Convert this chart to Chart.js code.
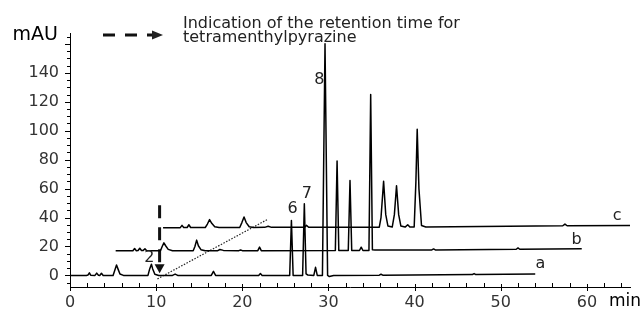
<!DOCTYPE html>
<html>
<head>
<meta charset="utf-8">
<script src="https://cdn.jsdelivr.net/npm/chart.js@4/dist/chart.umd.min.js"></script>
<style>
  body { margin: 0; background: #fff; }
  #wrap { width: 644px; height: 309px; }
</style>
</head>
<body>
<div id="wrap"><canvas id="chrom" width="644" height="309"></canvas></div>
<script>
/* ==========================================
   DATA  (time in min, absorbance in mAU)
========================================== */

const traceA = [
  [0,0],[1.9,0],[2.1,0.3],[2.25,1.8],[2.4,0.2],[2.9,0],[3.1,1.6],[3.3,0.1],[3.45,0],[3.65,1.5],[3.85,0],
  [5.0,0],[5.2,3.5],[5.4,7.2],[5.6,4],[5.8,1],[6.2,0],
  [9.05,0],[9.25,4.5],[9.45,7.7],[9.6,4.5],[9.85,0.8],[10.3,0],
  [11.9,0],[12.2,0.9],[12.5,0],[16.4,0],[16.65,2.8],[16.9,0],[21.9,0],[22.1,1.3],[22.3,0],
  [25.5,0],[25.7,38],[25.9,0],[27.0,0],[27.2,49.5],[27.4,1],[27.6,0.3],
  [28.3,0],[28.5,5.6],[28.7,0],[29.3,0],[29.6,160],[29.9,0],[30.1,-0.8],[30.6,0],
  [35.9,0.2],[36.1,0.8],[36.3,0.2],[46.7,0.6],[46.9,1.3],[47.1,0.6],[54,0.9]
];

const traceB = [
  [5.3,17],[7.3,17],[7.5,18.6],[7.7,17.1],[7.9,17.2],[8.1,18.8],[8.3,17.2],[8.5,17.3],[8.7,18.4],[8.9,17],
  [10.5,17],[10.7,20],[10.9,22.5],[11.1,20.5],[11.4,18],[11.9,17],
  [14.3,17],[14.5,20],[14.7,24.4],[14.9,20.5],[15.2,17.8],[15.7,17],
  [17.1,17],[17.4,17.9],[17.8,17.3],[19.6,17.1],[19.8,17.6],[20.0,17.1],[21.8,17.1],[22.0,19.6],[22.2,17.1],
  [30.8,17.2],[31.0,79],[31.2,17.2],[32.3,17.2],[32.5,65.6],[32.7,17.2],
  [33.6,17.2],[33.8,19.5],[34.0,17.2],[34.7,17.2],[34.9,125],[35.1,17.8],[35.4,17.6],
  [42,17.6],[42.2,18.3],[42.4,17.6],[51.8,18.1],[52,19],[52.2,18.1],[59.4,18.4]
];

const traceC = [
  [10.8,33],[12.8,33],[13.0,34.6],[13.2,33.1],[13.6,33.1],[13.8,35],[14.0,33.1],
  [15.7,33.1],[15.95,35.5],[16.2,38.6],[16.45,36],[16.8,33.6],[17.3,33.1],
  [19.7,33.1],[19.95,36.5],[20.2,40.4],[20.45,36.5],[20.8,33.6],[21.3,33.1],
  [22.6,33.2],[23.0,34],[23.4,33.2],[27.2,33.2],[27.45,34.6],[27.7,33.3],
  [35.9,33.3],[36.1,40],[36.4,65],[36.65,42],[36.9,34.2],[37.4,33.4],
  [37.65,42],[37.9,62],[38.15,42],[38.4,34.2],[38.9,33.4],[39.2,35],[39.45,33.4],
  [39.95,33.5],[40.15,65],[40.3,101],[40.5,60],[40.8,34.5],[41.3,33.5],
  [57.2,34.3],[57.45,35.5],[57.7,34.3],[65,34.5]
];

// retention time marker of tetramethylpyrazine and the dotted guide
const markerLine = [[10.4,48.5],[10.4,7]];
const markerTip = [10.4,1.5];
const guideLine = [[10.15,-2.4],[22.9,38.6]];

const peakNames = ["2","6","7","8"];
const peakAt = [[9.22,11.8],[25.85,45.7],[27.5,56.7],[28.94,135]];
const traceNames = ["a","b","c"];
const traceNameAt = [[54.6,7.9],[58.8,24.4],[63.5,40.9]];

const xTicks = [0,10,20,30,40,50,60];
const yTicks = [0,20,40,60,80,100,120,140];

/* ==========================================
   DECORATION (minor ticks, labels, legend)
========================================== */

const FONT = "'DejaVu Sans', 'Liberation Sans', sans-serif";

const decor = {
  id: "decor",
  afterDatasetsDraw(chart) {
    const ctx = chart.ctx;
    const xs = chart.scales.x, ys = chart.scales.y;
    const area = chart.chartArea;
    const px = v => xs.getPixelForValue(v);
    const py = v => ys.getPixelForValue(v);

    ctx.save();
    ctx.strokeStyle = "#000";
    ctx.lineWidth = 1;

    // y ticks
    for (let v = -5; v <= 165; v += 5) {
      const y = Math.round(py(v)) + 0.5;
      const len = v % 20 === 0 ? 5 : 3;
      ctx.beginPath();
      ctx.moveTo(area.left - len, y);
      ctx.lineTo(area.left, y);
      ctx.stroke();
    }
    // x ticks
    for (let t = 0; t <= 64; t += 2) {
      const x = Math.round(px(t)) + 0.5;
      ctx.beginPath();
      if (t % 10 === 0) {
        ctx.moveTo(x, area.bottom - 3);
        ctx.lineTo(x, area.bottom + 4);
      } else {
        ctx.moveTo(x, area.bottom - 4);
        ctx.lineTo(x, area.bottom);
      }
      ctx.stroke();
    }

    // arrow head of the marker
    const tx = px(markerTip[0]), ty = py(markerTip[1]);
    ctx.fillStyle = "#111";
    ctx.beginPath();
    ctx.moveTo(tx, ty);
    ctx.lineTo(tx - 5, ty - 9);
    ctx.lineTo(tx + 5, ty - 9);
    ctx.closePath();
    ctx.fill();

    // peak numbers and trace names
    ctx.fillStyle = "#222";
    ctx.font = "16px " + FONT;
    ctx.textAlign = "center";
    ctx.textBaseline = "middle";
    peakNames.forEach((n, i) => ctx.fillText(n, px(peakAt[i][0]), py(peakAt[i][1])));
    traceNames.forEach((n, i) => ctx.fillText(n, px(traceNameAt[i][0]), py(traceNameAt[i][1])));

    // legend: dashed arrow + text
    ctx.strokeStyle = "#111";
    ctx.lineWidth = 3;
    ctx.setLineDash([12, 10]);
    ctx.beginPath();
    ctx.moveTo(103, 35);
    ctx.lineTo(152, 35);
    ctx.stroke();
    ctx.setLineDash([]);
    ctx.beginPath();
    ctx.moveTo(163, 35);
    ctx.lineTo(152, 30.5);
    ctx.lineTo(152, 39.5);
    ctx.closePath();
    ctx.fill();

    ctx.textAlign = "left";
    ctx.textBaseline = "alphabetic";
    ctx.fillText("Indication of the retention time for", 183, 28);
    ctx.fillText("tetramenthylpyrazine", 183, 42);

    // axis titles
    ctx.fillStyle = "#000";
    ctx.font = "19px " + FONT;
    ctx.textAlign = "right";
    ctx.fillText("mAU", 58, 40);
    ctx.font = "17px " + FONT;
    ctx.textAlign = "left";
    ctx.fillText("min", 609, 306);
    ctx.restore();
  }
};

/* ==========================================
   CHART
========================================== */

const toPts = arr => arr.map(p => ({ x: p[0], y: p[1] }));

const traceStyle = {
  borderColor: "#000",
  borderWidth: 1.5,
  pointRadius: 0,
  tension: 0,
  borderJoinStyle: "round",
  fill: false
};

new Chart(document.getElementById("chrom"), {
  type: "line",
  data: {
    datasets: [
      { ...traceStyle, data: toPts(traceA) },
      { ...traceStyle, data: toPts(traceB) },
      { ...traceStyle, data: toPts(traceC) },
      { data: toPts(markerLine), borderColor: "#111", borderWidth: 3, borderDash: [13, 9], pointRadius: 0 },
      { data: toPts(guideLine), borderColor: "#222", borderWidth: 1.2, borderDash: [1.5, 1.5], pointRadius: 0 }
    ]
  },
  options: {
    responsive: false,
    devicePixelRatio: 1,
    animation: false,
    layout: { padding: { left: 0, right: 14, top: 33, bottom: 0 } },
    plugins: { legend: { display: false }, tooltip: { enabled: false } },
    scales: {
      x: {
        type: "linear",
        min: 0,
        max: 65,
        afterBuildTicks: a => { a.ticks = xTicks.map(v => ({ value: v })); },
        afterFit: s => { s.height = 22; },
        grid: { display: false, drawTicks: false },
        border: { color: "#000", width: 1 },
        ticks: { padding: 6, color: "#333", font: { family: FONT, size: 16 }, maxRotation: 0, autoSkip: false }
      },
      y: {
        min: -8,
        max: 167.5,
        afterBuildTicks: a => { a.ticks = yTicks.map(v => ({ value: v })); },
        afterFit: s => { s.width = 70; },
        grid: { display: false, drawTicks: false },
        border: { color: "#000", width: 1 },
        ticks: { padding: 11, color: "#333", font: { family: FONT, size: 16 } }
      }
    }
  },
  plugins: [decor]
});
</script>
</body>
</html>
